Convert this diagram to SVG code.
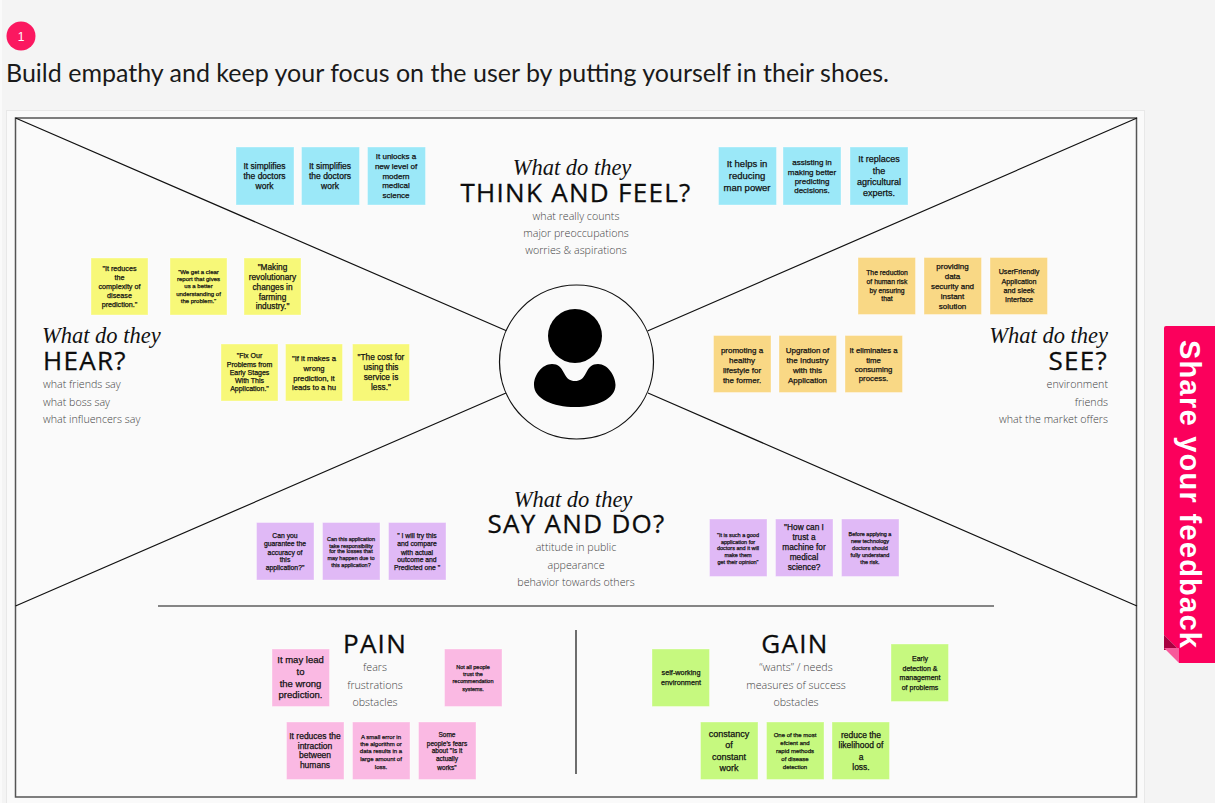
<svg xmlns="http://www.w3.org/2000/svg" width="1215" height="803" viewBox="0 0 1215 803">
<style>
text{font-family:"Liberation Sans",Arial,sans-serif}
.st{stroke:#fff;stroke-opacity:.35;stroke-width:1}
.bl{fill:#9be8f8}.ye{fill:#f7f878}.or{fill:#f9d885}.pu{fill:#e0b9f6}.pi{fill:#fab9e3}.gr{fill:#c6f97f}
.t{text-anchor:middle;fill:#111;stroke:#111;stroke-width:.25}
.ln{stroke:#111;stroke-width:1.2;fill:none}
.sc{font-family:"Liberation Serif",serif;font-style:italic;font-size:22.500px;fill:#111}
.hd{font-family:"Open Sans","Noto Sans",sans-serif;font-size:26px;fill:#0c0c0c;stroke:#0c0c0c;stroke-width:.3;letter-spacing:1.300px}
.ds{font-family:"Open Sans","Noto Sans",sans-serif;font-weight:300;font-size:10.700px;fill:#444}
.m{text-anchor:middle}.e{text-anchor:end}
</style>
<rect width="1215" height="803" fill="#f4f4f4"/>
<rect x="0" y="0" width="2" height="803" fill="#fafafa"/>
<rect x="6.5" y="110.5" width="1138" height="693" fill="#fafafa" stroke="#e8e8e8"/>
<g id="header">
<circle cx="21" cy="36" r="14.5" fill="#fb1860"/>
<text x="21" y="40.500" font-size="12" fill="#fff" text-anchor="middle">1</text>
<text x="6" y="82" font-size="25" fill="#1a1a1a" style="font-family:Lato,'Liberation Sans',sans-serif" textLength="883">Build empathy and keep your focus on the user by putting yourself in their shoes.</text>
</g>
<g id="connectors">
<rect x="15.500" y="118" width="1121" height="679" fill="none" stroke="#555" stroke-width="1.500"/>
<path class="ln" d="M15.500 118L507 331M1137 118L647.500 331M15.500 606L506 393M1137 606L648 393"/>
<path class="ln" d="M158 606H994M576 630V774" stroke-width="1.300"/>
</g>
<g id="persona">
<circle cx="576.500" cy="362" r="77" fill="#fafafa" stroke="#111" stroke-width="1.200"/>
<ellipse cx="575" cy="336" rx="27" ry="27" fill="#000"/>
<path fill="#000" d="M552 364C558 364 561 367 564 373C567 379 570 381 575 381C580 381 583 379 586 373C589 367 592 364 598 364C608 364 615.500 376 615.500 385C615.500 399 597 407 575 407C553 407 534 399 534 385C534 375 542 364 552 364Z"/>
</g>
<g id="title-think"><text class="sc m" x="572" y="175">What do they</text><text class="hd m" x="576" y="202">THINK AND FEEL?</text><text class="ds m" x="576" y="219.500">what really counts</text><text class="ds m" x="576" y="237">major preoccupations</text><text class="ds m" x="576" y="254">worries &amp; aspirations</text></g>
<g id="title-hear"><text class="sc" x="42" y="343">What do they</text><text class="hd" x="43" y="370">HEAR?</text><text class="ds" x="43" y="388">what friends say</text><text class="ds" x="43" y="405.500">what boss say</text><text class="ds" x="43" y="423">what influencers say</text></g>
<g id="title-see"><text class="sc e" x="1108" y="343">What do they</text><text class="hd e" x="1108" y="370">SEE?</text><text class="ds e" x="1108" y="388">environment</text><text class="ds e" x="1108" y="405.500">friends</text><text class="ds e" x="1108" y="423">what the market offers</text></g>
<g id="title-say"><text class="sc m" x="573" y="507">What do they</text><text class="hd m" x="576.500" y="533">SAY AND DO?</text><text class="ds m" x="576" y="551">attitude in public</text><text class="ds m" x="576" y="569">appearance</text><text class="ds m" x="576" y="586">behavior towards others</text></g>
<g id="title-pain"><text class="hd m" x="375" y="653">PAIN</text><text class="ds m" x="375" y="671">fears</text><text class="ds m" x="375" y="689">frustrations</text><text class="ds m" x="375" y="706">obstacles</text></g>
<g id="title-gain"><text class="hd m" x="795" y="653">GAIN</text><text class="ds m" x="796" y="671">“wants” / needs</text><text class="ds m" x="796" y="689">measures of success</text><text class="ds m" x="796" y="706">obstacles</text></g>

<g id="blue-1"><rect class="st bl" x="236" y="147" width="58" height="58"/><text class="t" font-size="8.500"><tspan x="264.500" y="168.500">It simplifies</tspan><tspan x="264.500" y="179">the doctors</tspan><tspan x="264.500" y="189">work</tspan></text></g>
<g id="blue-2"><rect class="st bl" x="301.500" y="147" width="58" height="58"/><text class="t" font-size="8.500"><tspan x="330" y="168.500">It simplifies</tspan><tspan x="330" y="179">the doctors</tspan><tspan x="330" y="189">work</tspan></text></g>
<g id="blue-3"><rect class="st bl" x="367.500" y="147" width="58" height="58"/><text class="t" font-size="8"><tspan x="396" y="159">It unlocks a</tspan><tspan x="396" y="169">new level of</tspan><tspan x="396" y="179">modern</tspan><tspan x="396" y="188">medical</tspan><tspan x="396" y="198">science</tspan></text></g>
<g id="blue-4"><rect class="st bl" x="718.500" y="147" width="58" height="58"/><text class="t" font-size="9.500"><tspan x="747" y="167">It helps in</tspan><tspan x="747" y="179">reducing</tspan><tspan x="747" y="191">man power</tspan></text></g>
<g id="blue-5"><rect class="st bl" x="783" y="147" width="58" height="58"/><text class="t" font-size="8"><tspan x="812" y="164.500">assisting in</tspan><tspan x="812" y="174.500">making better</tspan><tspan x="812" y="184">predicting</tspan><tspan x="812" y="193">decisions.</tspan></text></g>
<g id="blue-6"><rect class="st bl" x="850" y="147" width="58" height="58"/><text class="t" font-size="9"><tspan x="879" y="162">It replaces</tspan><tspan x="879" y="173.500">the</tspan><tspan x="879" y="185">agricultural</tspan><tspan x="879" y="196">experts.</tspan></text></g>

<g id="yellow-1"><rect class="st ye" x="91" y="258" width="57" height="57"/><text class="t" font-size="7.200"><tspan x="119.500" y="271">"It reduces</tspan><tspan x="119.500" y="280">the</tspan><tspan x="119.500" y="289">complexity of</tspan><tspan x="119.500" y="298">disease</tspan><tspan x="119.500" y="307">prediction."</tspan></text></g>
<g id="yellow-2"><rect class="st ye" x="170" y="258" width="57" height="57"/><text class="t" font-size="6"><tspan x="198.500" y="274">"We get a clear</tspan><tspan x="198.500" y="281">report that gives</tspan><tspan x="198.500" y="288">us a better</tspan><tspan x="198.500" y="296">understanding of</tspan><tspan x="198.500" y="303">the problem."</tspan></text></g>
<g id="yellow-3"><rect class="st ye" x="244" y="258" width="57" height="57"/><text class="t" font-size="8.300"><tspan x="272.500" y="270">"Making</tspan><tspan x="272.500" y="280">revolutionary</tspan><tspan x="272.500" y="289.500">changes in</tspan><tspan x="272.500" y="299.500">farming</tspan><tspan x="272.500" y="308.500">industry."</tspan></text></g>
<g id="yellow-4"><rect class="st ye" x="221" y="344" width="57" height="57"/><text class="t" font-size="7"><tspan x="249.500" y="358">"Fix Our</tspan><tspan x="249.500" y="367">Problems from</tspan><tspan x="249.500" y="375">Early Stages</tspan><tspan x="249.500" y="383">With This</tspan><tspan x="249.500" y="391">Application."</tspan></text></g>
<g id="yellow-5"><rect class="st ye" x="285.500" y="344" width="57" height="57"/><text class="t" font-size="7.700"><tspan x="314" y="361">"If it makes a</tspan><tspan x="314" y="370.500">wrong</tspan><tspan x="314" y="380.500">prediction, it</tspan><tspan x="314" y="389.500">leads to a hu</tspan></text></g>
<g id="yellow-6"><rect class="st ye" x="352.500" y="344" width="57" height="57"/><text class="t" font-size="8.300"><tspan x="381" y="360">"The cost for</tspan><tspan x="381" y="370">using this</tspan><tspan x="381" y="380">service is</tspan><tspan x="381" y="390">less."</tspan></text></g>

<g id="orange-1"><rect class="st or" x="858" y="257.500" width="57.500" height="57"/><text class="t" font-size="6.800"><tspan x="887" y="275">The reduction</tspan><tspan x="887" y="284">of human risk</tspan><tspan x="887" y="292.500">by ensuring</tspan><tspan x="887" y="301">that</tspan></text></g>
<g id="orange-2"><rect class="st or" x="924" y="257.500" width="57.500" height="57"/><text class="t" font-size="8"><tspan x="952.500" y="268.500">providing</tspan><tspan x="952.500" y="278.500">data</tspan><tspan x="952.500" y="288.500">security and</tspan><tspan x="952.500" y="298.500">instant</tspan><tspan x="952.500" y="308.500">solution</tspan></text></g>
<g id="orange-3"><rect class="st or" x="990" y="257.500" width="57.500" height="57"/><text class="t" font-size="7.200"><tspan x="1019" y="274">UserFriendly</tspan><tspan x="1019" y="284">Application</tspan><tspan x="1019" y="293">and sleek</tspan><tspan x="1019" y="302">Interface</tspan></text></g>
<g id="orange-4"><rect class="st or" x="713.500" y="335.500" width="57.500" height="57"/><text class="t" font-size="8"><tspan x="742" y="352.500">promoting a</tspan><tspan x="742" y="362.500">healthy</tspan><tspan x="742" y="372.500">lifestyle for</tspan><tspan x="742" y="382.500">the former.</tspan></text></g>
<g id="orange-5"><rect class="st or" x="779" y="335.500" width="57.500" height="57"/><text class="t" font-size="8"><tspan x="807.500" y="352.500">Upgration of</tspan><tspan x="807.500" y="362.500">the Industry</tspan><tspan x="807.500" y="372.500">with this</tspan><tspan x="807.500" y="382.500">Application</tspan></text></g>
<g id="orange-6"><rect class="st or" x="845" y="335.500" width="57.500" height="57"/><text class="t" font-size="7.800"><tspan x="873.500" y="352.500">It eliminates a</tspan><tspan x="873.500" y="362.500">time</tspan><tspan x="873.500" y="371.500">consuming</tspan><tspan x="873.500" y="381">process.</tspan></text></g>

<g id="purple-1"><rect class="st pu" x="256.500" y="522.500" width="57.500" height="57.500"/><text class="t" font-size="6.800"><tspan x="285" y="537.500">Can you</tspan><tspan x="285" y="545.500">guarantee the</tspan><tspan x="285" y="554.500">accuracy of</tspan><tspan x="285" y="562">this</tspan><tspan x="285" y="570">application?"</tspan></text></g>
<g id="purple-2"><rect class="st pu" x="322.500" y="522.500" width="57.500" height="57.500"/><text class="t" font-size="5.500"><tspan x="351" y="540.500">Can this application</tspan><tspan x="351" y="547.500">take responsibility</tspan><tspan x="351" y="553">for the losses that</tspan><tspan x="351" y="560">may happen due to</tspan><tspan x="351" y="566.500">this application?</tspan></text></g>
<g id="purple-3"><rect class="st pu" x="388.500" y="522.500" width="57.500" height="57.500"/><text class="t" font-size="6.800"><tspan x="417" y="537.500">" I will try this</tspan><tspan x="417" y="545.500">and compare</tspan><tspan x="417" y="554.500">with actual</tspan><tspan x="417" y="562">outcome and</tspan><tspan x="417" y="570">Predicted one "</tspan></text></g>
<g id="purple-4"><rect class="st pu" x="709.500" y="519" width="57.500" height="57.500"/><text class="t" font-size="5.500"><tspan x="738" y="536.500">"It is such a good</tspan><tspan x="738" y="543.500">application for</tspan><tspan x="738" y="550">doctors and it will</tspan><tspan x="738" y="556.500">make them</tspan><tspan x="738" y="563.500">get their opinion"</tspan></text></g>
<g id="purple-5"><rect class="st pu" x="775.500" y="519" width="57.500" height="57.500"/><text class="t" font-size="8.300"><tspan x="804" y="530">"How can I</tspan><tspan x="804" y="540">trust a</tspan><tspan x="804" y="550">machine for</tspan><tspan x="804" y="560">medical</tspan><tspan x="804" y="570">science?</tspan></text></g>
<g id="purple-6"><rect class="st pu" x="841.500" y="519" width="57.500" height="57.500"/><text class="t" font-size="5.500"><tspan x="870" y="535.500">Before applying a</tspan><tspan x="870" y="542.500">new technology</tspan><tspan x="870" y="550">doctors should</tspan><tspan x="870" y="557">fully understand</tspan><tspan x="870" y="564">the risk.</tspan></text></g>

<g id="pink-1"><rect class="st pi" x="272" y="649" width="57.500" height="57.500"/><text class="t" font-size="9.500"><tspan x="300.500" y="663">It may lead</tspan><tspan x="300.500" y="675">to</tspan><tspan x="300.500" y="687">the wrong</tspan><tspan x="300.500" y="698">prediction.</tspan></text></g>
<g id="pink-2"><rect class="st pi" x="444.500" y="649" width="57.500" height="57.500"/><text class="t" font-size="5.500"><tspan x="473" y="669">Not all people</tspan><tspan x="473" y="676">trust the</tspan><tspan x="473" y="683">recommendation</tspan><tspan x="473" y="691">systems.</tspan></text></g>
<g id="pink-3"><rect class="st pi" x="286.500" y="722" width="57.500" height="57.500"/><text class="t" font-size="8.500"><tspan x="315" y="739">It reduces the</tspan><tspan x="315" y="749">intraction</tspan><tspan x="315" y="758">between</tspan><tspan x="315" y="768">humans</tspan></text></g>
<g id="pink-4"><rect class="st pi" x="352.500" y="722" width="57.500" height="57.500"/><text class="t" font-size="6"><tspan x="381" y="738.500">A small error in</tspan><tspan x="381" y="745.500">the algorithm or</tspan><tspan x="381" y="753">data results in a</tspan><tspan x="381" y="760.500">large amount of</tspan><tspan x="381" y="768.500">loss.</tspan></text></g>
<g id="pink-5"><rect class="st pi" x="418.500" y="722" width="57.500" height="57.500"/><text class="t" font-size="6.500"><tspan x="447" y="737">Some</tspan><tspan x="447" y="745.500">people's fears</tspan><tspan x="447" y="753">about "Is it</tspan><tspan x="447" y="761">actually</tspan><tspan x="447" y="769.500">works"</tspan></text></g>

<g id="green-1"><rect class="st gr" x="652" y="649" width="57.500" height="57.500"/><text class="t" font-size="7.300"><tspan x="681" y="675">self-working</tspan><tspan x="681" y="685">environment</tspan></text></g>
<g id="green-2"><rect class="st gr" x="891" y="644" width="57.500" height="57.500"/><text class="t" font-size="7"><tspan x="920" y="661">Early</tspan><tspan x="920" y="671">detection &amp;</tspan><tspan x="920" y="680">management</tspan><tspan x="920" y="690">of problems</tspan></text></g>
<g id="green-3"><rect class="st gr" x="700.500" y="722" width="57.500" height="57.500"/><text class="t" font-size="9"><tspan x="729" y="736.500">constancy</tspan><tspan x="729" y="748">of</tspan><tspan x="729" y="760">constant</tspan><tspan x="729" y="771">work</tspan></text></g>
<g id="green-4"><rect class="st gr" x="766.500" y="722" width="57.500" height="57.500"/><text class="t" font-size="6"><tspan x="795" y="737">One of the most</tspan><tspan x="795" y="745">efcient and</tspan><tspan x="795" y="753">rapid methods</tspan><tspan x="795" y="761">of disease</tspan><tspan x="795" y="769">detection</tspan></text></g>
<g id="green-5"><rect class="st gr" x="832" y="722" width="57.500" height="57.500"/><text class="t" font-size="8.500"><tspan x="861" y="738">reduce the</tspan><tspan x="861" y="748">likelihood of</tspan><tspan x="861" y="759.500">a</tspan><tspan x="861" y="770">loss.</tspan></text></g>

<g id="feedback-tab">
<path fill="#fb005c" d="M1166 326H1215V663H1179V650L1164 635V328Q1164 326 1166 326Z"/>
<path fill="#a80040" d="M1164 635L1179 650H1164Z"/>
<path fill="#f75a9b" d="M1164 648H1179V663Z"/>
<text transform="translate(1180 340) rotate(90)" font-size="29" font-weight="bold" fill="#fff" textLength="308">Share your feedback</text>
</g>
</svg>
